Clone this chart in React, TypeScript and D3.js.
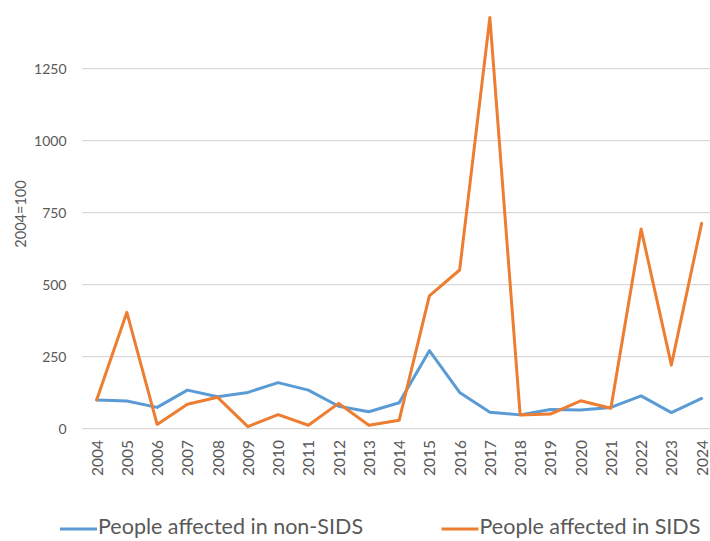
import React from "react";
import * as d3 from "d3";

const years = [
  "2004", "2005", "2006", "2007", "2008", "2009", "2010", "2011", "2012", "2013", "2014",
  "2015", "2016", "2017", "2018", "2019", "2020", "2021", "2022", "2023", "2024",
];
const nonSids = [100, 96, 74, 134, 111, 126, 160, 134, 78, 59, 90, 271, 126, 57, 48, 67, 65, 74, 114, 56, 105];
const sids = [100, 404, 15, 85, 109, 7, 49, 12, 88, 12, 29, 461, 551, 1428, 48, 51, 97, 71, 693, 221, 713];
const yTicks = [0, 250, 500, 750, 1000, 1250];
const seriesNames = ["People affected in non-SIDS", "People affected in SIDS"];
const colors = ["#5B9BD5", "#ED7D31"];

const W = 710;
const H = 541;
const FONT = "Lato, 'Open Sans', sans-serif";

export default function App() {
  const x = d3.scaleBand<string>().domain(years).range([81.5, 81.5 + 21 * 30.25]);
  const y = d3.scaleLinear().domain([0, 1250]).range([428.7, 68.7]);
  const cx = (i: number) => (x(years[i]) as number) + x.bandwidth() / 2;
  const line = d3
    .line<number>()
    .x((_, i) => cx(i))
    .y((d) => y(d));

  const series = [nonSids, sids];
  const legendX = [60, 441.5];

  return (
    <div style={{ position: "absolute", left: 0, top: 0 }}>
      <svg width={W} height={H} style={{ display: "block", background: "#fff" }}>
        {yTicks.map((t) => (
          <g key={t}>
            <line x1={82} x2={710} y1={y(t)} y2={y(t)} stroke="#D9D9D9" strokeWidth={1.2} />
            <text
              x={66.5}
              y={y(t)}
              textAnchor="end"
              dominantBaseline="central"
              fontFamily={FONT}
              fontSize={14}
              fill="#595959"
            >
              {t}
            </text>
          </g>
        ))}
        <text
          transform={`translate(20,214) rotate(-90)`}
          textAnchor="middle"
          dominantBaseline="central"
          fontFamily={FONT}
          fontSize={14.5}
          fill="#595959"
        >
          2004=100
        </text>
        {years.map((yr, i) => (
          <text
            key={yr}
            transform={`translate(${cx(i)},440) rotate(-90)`}
            textAnchor="end"
            dominantBaseline="central"
            fontFamily={FONT}
            fontSize={15.5}
            fill="#595959"
          >
            {yr}
          </text>
        ))}
        {series.map((s, k) => (
          <path
            key={k}
            d={line(s) as string}
            fill="none"
            stroke={colors[k]}
            strokeWidth={3}
            strokeLinejoin="round"
            strokeLinecap="round"
          />
        ))}
        {seriesNames.map((name, k) => {
          const lx = legendX[k];
          return (
            <g key={name}>
              <line x1={lx} x2={lx + 37} y1={529} y2={529} stroke={colors[k]} strokeWidth={3} />
              <text
                x={lx + 38}
                y={526}
                dominantBaseline="central"
                fontFamily={FONT}
                fontSize={21.5}
                fill="#595959"
              >
                {name}
              </text>
            </g>
          );
        })}
      </svg>
    </div>
  );
}
